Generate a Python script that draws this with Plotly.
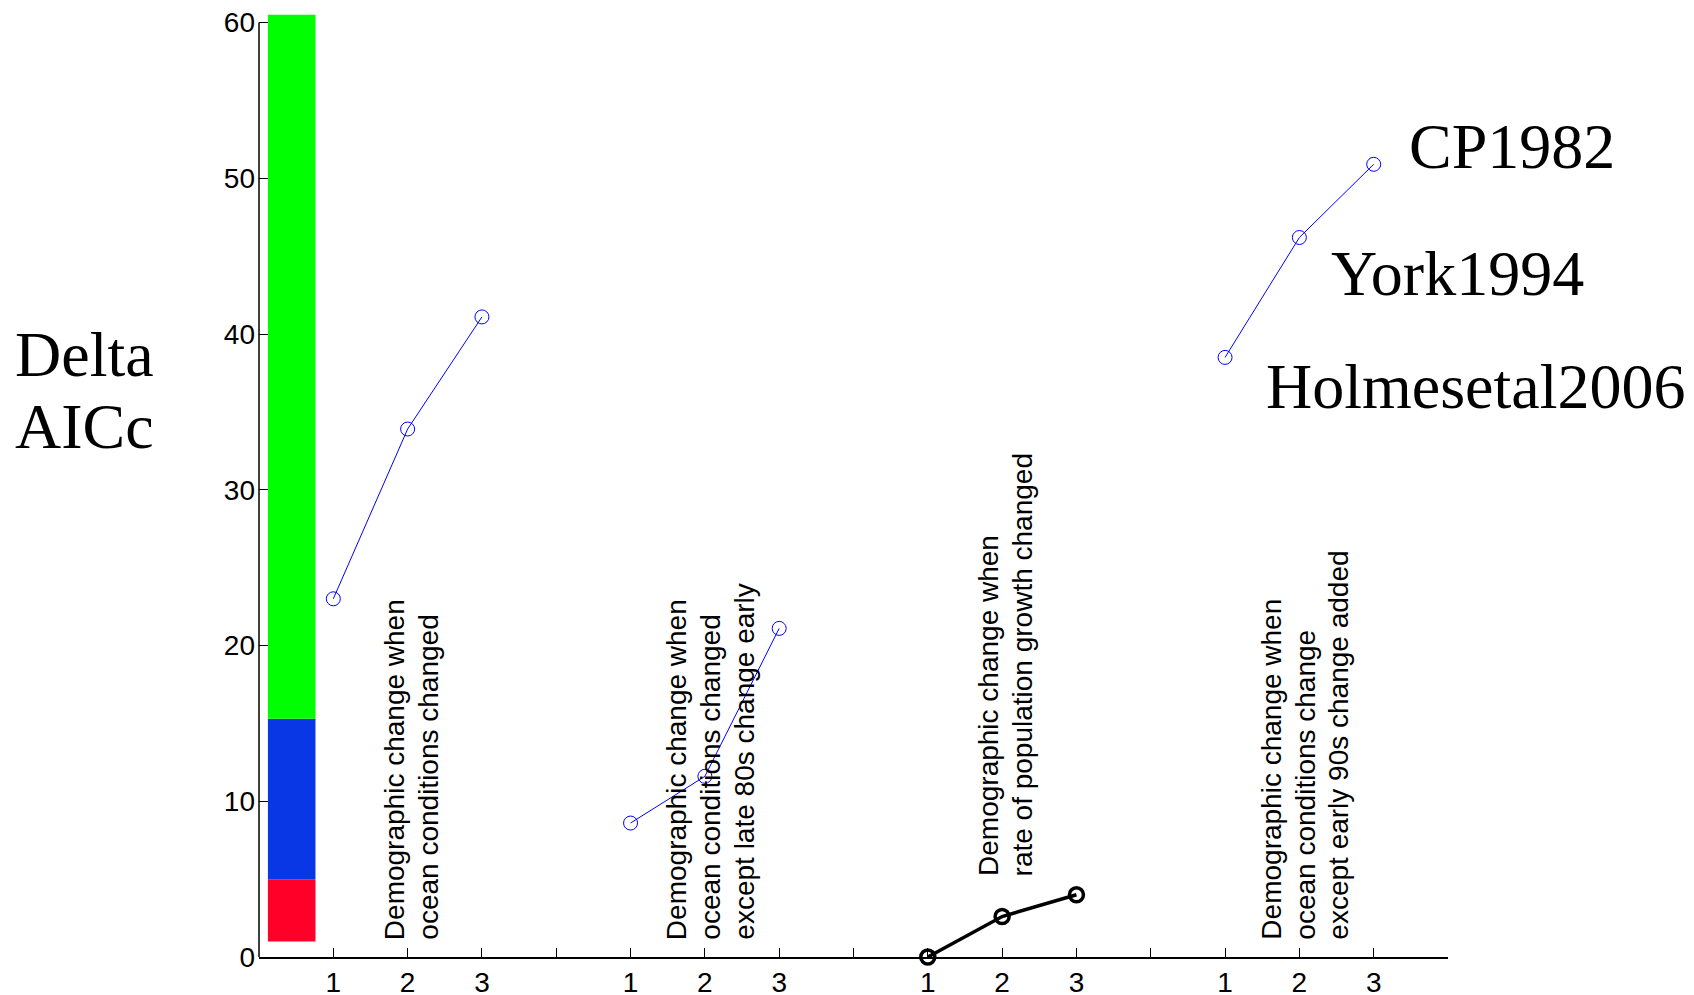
import plotly.graph_objects as go

# ---- data ----
bar_x = [0.44]
bar_bases = [1.0, 5.0, 15.3]
bar_heights = [4.0, 10.3, 45.2]
bar_colors = ["#FF0028", "#0A37E6", "#00FF00"]

x_g1 = [1, 2, 3]
y_g1 = [23.0, 33.9, 41.1]
x_g2 = [5, 6, 7]
y_g2 = [8.6, 11.6, 21.1]
x_g3 = [9, 10, 11]
y_g3 = [0.0, 2.6, 4.0]
x_g4 = [13, 14, 15]
y_g4 = [38.5, 46.2, 50.9]

tick_vals = list(range(1, 17))
tick_text = ["1", "2", "3", ""] * 4
y_ticks = [0, 10, 20, 30, 40, 50, 60]

group_labels = [
    ["Demographic change when", "ocean conditions changed"],
    ["Demographic change when", "ocean conditions changed", "except late 80s change early"],
    ["Demographic change when", "rate of population growth changed"],
    ["Demographic change when", "ocean conditions change", "except early 90s change added"],
]
group_label_x = [2.05, 6.07, 10.05, 14.07]
group_label_y = [0.96, 0.96, 5.05, 0.96]

side_labels = ["CP1982", "York1994", "Holmesetal2006"]
side_label_x = [0.9655, 0.900, 0.845]
side_label_y = [52.05, 43.9, 36.65]

ylabel_lines = ["Delta", "AICc"]

SANS = "Liberation Sans, Arial, sans-serif"
SERIF = "Liberation Serif, Times New Roman, serif"
LINE_PX = 33.5
SERIF_LINE_PX = 72

fig = go.Figure()

for b, h, c in zip(bar_bases, bar_heights, bar_colors):
    fig.add_trace(go.Bar(x=bar_x, y=[h], base=[b], width=0.64,
                         marker=dict(color=c, line=dict(width=0)),
                         showlegend=False, hoverinfo="skip"))

for xs, ys in [(x_g1, y_g1), (x_g2, y_g2), (x_g4, y_g4)]:
    fig.add_trace(go.Scatter(x=xs, y=ys, mode="lines+markers",
                             line=dict(color="#0000FF", width=1),
                             marker=dict(symbol="circle-open", size=14,
                                         color="#0000FF", line=dict(width=1)),
                             showlegend=False, cliponaxis=False))

fig.add_trace(go.Scatter(x=x_g3, y=y_g3, mode="lines+markers",
                         line=dict(color="black", width=3.5),
                         marker=dict(symbol="circle-open", size=14,
                                     color="black", line=dict(width=3.5)),
                         showlegend=False, cliponaxis=False))

for lines, xx, yy in zip(group_labels, group_label_x, group_label_y):
    n = len(lines)
    for i, ln in enumerate(lines):
        fig.add_annotation(x=xx, y=yy, xref="x", yref="y", text=ln,
                           xshift=(i - (n - 1) / 2) * LINE_PX,
                           textangle=-90, showarrow=False,
                           xanchor="center", yanchor="bottom",
                           font=dict(family=SANS, size=28, color="black"))

for txt, xx, yy in zip(side_labels, side_label_x, side_label_y):
    fig.add_annotation(x=xx, y=yy, xref="paper", yref="y", text=txt,
                       showarrow=False, xanchor="left", yanchor="middle",
                       font=dict(family=SERIF, size=64, color="black"))

for i, ln in enumerate(ylabel_lines):
    fig.add_annotation(x=-0.147, y=36.4, xref="paper", yref="y", text=ln,
                       yshift=-(i - 0.5) * SERIF_LINE_PX,
                       showarrow=False, xanchor="center", yanchor="middle",
                       font=dict(family=SERIF, size=64, color="black"))

# y axis line only up to 60
fig.add_shape(type="line", xref="paper", yref="y", x0=0, x1=0, y0=0, y1=60,
              line=dict(color="black", width=1.5))

fig.update_layout(
    width=1694, height=995,
    margin=dict(l=251, r=254, t=6, b=46, autoexpand=False),
    paper_bgcolor="white", plot_bgcolor="white",
    barmode="overlay",
    xaxis=dict(range=[0, 16], tickmode="array", tickvals=tick_vals,
               ticktext=tick_text, ticks="inside", ticklen=9,
               tickcolor="black", tickwidth=1.2, automargin=False,
               showline=True, linecolor="black", linewidth=1.5,
               showgrid=False, zeroline=False, ticklabeloverflow="allow",
               tickfont=dict(family=SANS, size=28, color="black")),
    yaxis=dict(range=[0, 60.55], tickmode="array", tickvals=y_ticks,
               ticks="inside", ticklen=9, tickcolor="black", tickwidth=1.2,
               showline=False, showgrid=False, zeroline=False, automargin=False,
               ticklabelstandoff=3, ticklabeloverflow="allow",
               tickfont=dict(family=SANS, size=28, color="black")),
)

fig.write_html("out.html")
